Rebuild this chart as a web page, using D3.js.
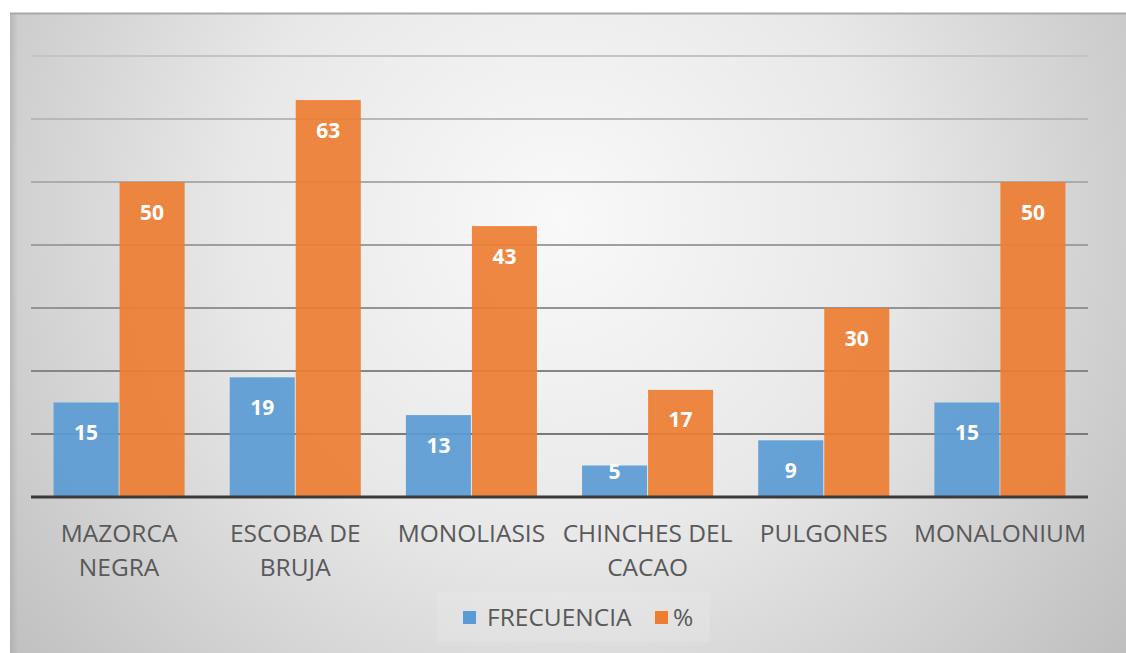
<!DOCTYPE html>
<html>
<head>
<meta charset="utf-8">
<style>
  *{margin:0;padding:0;box-sizing:border-box}
  body{background:#fff;width:1126px;height:653px;overflow:hidden}
  svg{display:block}
</style>
</head>
<body>
<svg id="g"></svg>
<script src="https://cdn.jsdelivr.net/npm/d3@7/dist/d3.min.js"></script>
<script>
// data
const categories = ['MAZORCA NEGRA', 'ESCOBA DE BRUJA', 'MONOLIASIS', 'CHINCHES DEL CACAO', 'PULGONES', 'MONALONIUM'];
const catLines = [['MAZORCA', 'NEGRA'], ['ESCOBA DE', 'BRUJA'], ['MONOLIASIS'], ['CHINCHES DEL', 'CACAO'], ['PULGONES'], ['MONALONIUM']];
const seriesNames = ['FRECUENCIA', '%'];
const frecuencia = [15, 19, 13, 5, 9, 15];
const porcentaje = [50, 63, 43, 17, 30, 50];
const yTicks = [0, 10, 20, 30, 40, 50, 60, 70];

const BLUE = '#5b9bd5', ORANGE = '#ed7d31';
const FONT = '"Open Sans", "Noto Sans", sans-serif';
const W = 1126, H = 653;

const svg = d3.select('#g').attr('width', W).attr('height', H);
const defs = svg.append('defs');

// radial background like the Office chart style
const rg = defs.append('radialGradient').attr('id', 'bg')
  .attr('gradientUnits', 'userSpaceOnUse')
  .attr('cx', 560).attr('cy', 220).attr('r', 720);
rg.append('stop').attr('offset', 0).attr('stop-color', '#f9f9f9');
rg.append('stop').attr('offset', 0.45).attr('stop-color', '#e8e8e8');
rg.append('stop').attr('offset', 1).attr('stop-color', '#bebebe');

const shade = defs.append('linearGradient').attr('id', 'lshade');
shade.append('stop').attr('offset', 0).attr('stop-color', '#a8a8a8').attr('stop-opacity', 0.6);
shade.append('stop').attr('offset', 1).attr('stop-color', '#a8a8a8').attr('stop-opacity', 0);

svg.append('rect').attr('x', 10).attr('y', 13).attr('width', W).attr('height', H)
  .attr('fill', 'url(#bg)');
svg.append('rect').attr('x', 10).attr('y', 13).attr('width', 8).attr('height', H)
  .attr('fill', 'url(#lshade)');
svg.append('line').attr('x1', 10).attr('x2', W).attr('y1', 13.5).attr('y2', 13.5)
  .attr('stroke', '#a9a9a9').attr('stroke-width', 2);

// scales
const x = d3.scaleBand().domain(categories).range([31, 1088]);
const bw = x.bandwidth();
const xs = d3.scaleBand().domain(seriesNames).range([bw * 0.128, bw * 0.872]).paddingInner(0.015);
const y = d3.scaleLinear().domain([0, 70]).range([497, 56]);

// gridlines, a bit darker towards the bottom
const gridCol = d3.scaleLinear().domain([70, 10]).range(['#c4c4c4', '#7a7a7a']);
svg.append('g').selectAll('line').data(yTicks.filter(d => d > 0)).join('line')
  .attr('x1', x.range()[0]).attr('x2', x.range()[1])
  .attr('y1', d => y(d)).attr('y2', d => y(d))
  .attr('stroke', d => gridCol(d)).attr('stroke-width', 2);

// bars
const rows = categories.map((c, i) => ({ c, vals: [frecuencia[i], porcentaje[i]] }));
const groups = svg.append('g').selectAll('g').data(rows).join('g')
  .attr('transform', d => `translate(${x(d.c)},0)`);

groups.selectAll('rect').data(d => d.vals.map((v, k) => ({ k, v }))).join('rect')
  .attr('x', d => xs(seriesNames[d.k]))
  .attr('width', xs.bandwidth())
  .attr('y', d => y(d.v))
  .attr('height', d => y(0) - y(d.v))
  .attr('fill', d => d.k === 0 ? BLUE : ORANGE)
  .attr('fill-opacity', 0.92);

groups.selectAll('text').data(d => d.vals.map((v, k) => ({ k, v }))).join('text')
  .attr('x', d => xs(seriesNames[d.k]) + xs.bandwidth() / 2)
  .attr('y', d => {
    const h = y(0) - y(d.v);
    return h > 40 ? y(d.v) + 30 : y(d.v) + 6;
  })
  .attr('dy', '0.36em')
  .attr('text-anchor', 'middle')
  .attr('font-family', FONT).attr('font-weight', 700).attr('font-size', 21)
  .attr('fill', '#fff')
  .text(d => d.v);

// baseline
svg.append('line').attr('x1', x.range()[0]).attr('x2', x.range()[1])
  .attr('y1', y(0)).attr('y2', y(0))
  .attr('stroke', '#3a3a3a').attr('stroke-width', 3);

// category labels
const lab = svg.append('g').selectAll('text').data(categories).join('text')
  .attr('x', d => x(d) + bw / 2)
  .attr('y', 542)
  .attr('text-anchor', 'middle')
  .attr('font-family', FONT).attr('font-size', 24.5)
  .attr('fill', '#595959');
lab.selectAll('tspan').data((d, i) => catLines[i]).join('tspan')
  .attr('x', function () { return this.parentNode.getAttribute('x'); })
  .attr('dy', (d, i) => i === 0 ? 0 : 34)
  .text(d => d);

// legend
const lg = svg.append('g').attr('transform', 'translate(437,592)');
lg.append('rect').attr('width', 273).attr('height', 50).attr('fill', '#ffffff').attr('fill-opacity', 0.12);
const items = [
  { name: seriesNames[0], col: BLUE, sx: 26, tx: 50 },
  { name: seriesNames[1], col: ORANGE, sx: 218, tx: 236 }
];
items.forEach(it => {
  lg.append('rect').attr('x', it.sx).attr('y', 19).attr('width', 13).attr('height', 13).attr('fill', it.col);
  lg.append('text').attr('x', it.tx).attr('y', 34)
    .attr('font-family', FONT).attr('font-size', 24.5).attr('fill', '#595959')
    .text(it.name);
});
</script>
</body>
</html>
